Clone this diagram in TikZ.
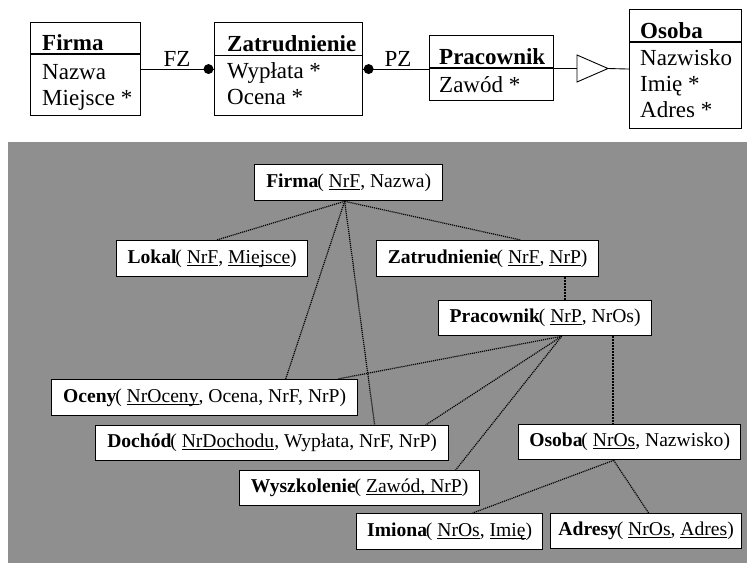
\documentclass[tikz,border=0pt]{standalone}
\usepackage{fontspec}
\setmainfont{Liberation Serif}
% bold relation name, drawn tight against the opening parenthesis
\newcommand\bw[1]{\textbf{#1}\kern-1.2pt}
% key attribute: text with a rule just under the baseline
\newcommand\ulx[1]{\setbox1\hbox{#1}\rlap{\rule[-2.2pt]{\wd1}{0.9pt}}\box1}
\definecolor{panelgray}{RGB}{143,143,143}
\begin{document}
\begin{tikzpicture}[x=1pt,y=-1pt,
  cls/.style={draw, line width=1.1pt, inner sep=0pt, anchor=north west},
  attr/.style={anchor=base west, inner sep=0pt, font=\fontsize{23}{27}\selectfont},
  lbl/.style={anchor=base, inner sep=0pt, font=\fontsize{23}{27}\selectfont},
  conn/.style={line width=0.9pt},
  rel/.style={draw, fill=white, line width=1.3pt, inner sep=0pt, anchor=north west,
    font=\fontsize{19.6}{23}\selectfont},
  link/.style={line width=1.2pt, dash pattern=on 1.1pt off 0.9pt},
  fklink/.style={line width=1.9pt, dash pattern=on 2pt off 1pt}]
\useasboundingbox (0,0) rectangle (749,563);

% ---------- class diagram ----------
\node[cls, minimum width=110pt, minimum height=93pt] (cF) at (30,22) {};
\node[cls, minimum width=148pt, minimum height=93pt] (cZ) at (214,22) {};
\node[cls, minimum width=124pt, minimum height=65pt] (cP) at (429,35) {};
\node[cls, minimum width=112pt, minimum height=119pt] (cO) at (629,9) {};

\draw[line width=1.1pt] (cF.west |- 0,54) -- (cF.east |- 0,54);
\draw[line width=1.1pt] (cZ.west |- 0,55.5) -- (cZ.east |- 0,55.5);
\draw[line width=1.1pt] (cP.west |- 0,68) -- (cP.east |- 0,68);
\draw[line width=1.1pt] (cO.west |- 0,42) -- (cO.east |- 0,42);

\node[attr] (tF1) at (42,50.5) {\textbf{Firma}};
\node[attr] (tF2) at (42,79) {Nazwa};
\node[attr] (tF3) at (42,105) {Miejsce *};
\node[attr] (tZ1) at (227,51.5) {\textbf{Zatrudnienie}};
\node[attr] (tZ2) at (227,78) {Wypłata *};
\node[attr] (tZ3) at (227,104) {Ocena *};
\node[attr] (tP1) at (439,64) {\textbf{Pracownik}};
\node[attr] (tP2) at (439,92) {Zawód *};
\node[attr] (tO1) at (640,38) {\textbf{Osoba}};
\node[attr] (tO2) at (640,65) {Nazwisko};
\node[attr] (tO3) at (640,91) {Imię *};
\node[attr] (tO4) at (640,117) {Adres *};

% associations
\draw[conn] (cF.east) -- (cZ.west);
\fill ([xshift=-5.5pt]cZ.west) circle (5pt);
\node[lbl] (lFZ) at (177,66.5) {FZ};
\draw[conn] (cZ.east) -- (cZ.east -| cP.west);
\fill ([xshift=5.5pt]cZ.east) circle (5pt);
\node[lbl] (lPZ) at (398,66.5) {PZ};

% generalization
\coordinate (gb) at (577,68.5);
\coordinate (ga) at (608,68.5);
\draw[conn] (cP.east |- gb) -- (gb);
\draw[conn] (ga) -- (cO.west);
\draw[conn, fill=white] (577,55) -- (ga) -- (577,82) -- cycle;

% ---------- relational schema ----------
\fill[panelgray] (8,142) rectangle (747,563);

\node[rel, minimum width=188pt, minimum height=36pt] (rFirma) at (254,164)
  {\bw{Firma}( \ulx{NrF}, Nazwa)};
\node[rel, minimum width=191pt, minimum height=36pt] (rLokal) at (116,240)
  {\bw{Lokal}( \ulx{NrF}, \ulx{Miejsce})};
\node[rel, minimum width=222pt, minimum height=36pt] (rZatr) at (376,240)
  {\bw{Zatrudnienie}( \ulx{NrF}, \ulx{NrP})};
\node[rel, minimum width=213pt, minimum height=35pt] (rPrac) at (438,300)
  {\bw{Pracownik}( \ulx{NrP}, NrOs)};
\node[rel, minimum width=306pt, minimum height=36pt] (rOceny) at (51,379)
  {\bw{Oceny}( \ulx{NrOceny}, Ocena, NrF, NrP)};
\node[rel, minimum width=353pt, minimum height=35pt] (rDoch) at (95,425)
  {\bw{Dochód}( \ulx{NrDochodu}, Wypłata, NrF, NrP)};
\node[rel, minimum width=240pt, minimum height=35pt] (rWysz) at (239,470)
  {\bw{Wyszkolenie}( \ulx{Zawód, NrP})};
\node[rel, minimum width=186pt, minimum height=36pt] (rImiona) at (356,513)
  {\bw{Imiona}( \ulx{NrOs}, \ulx{Imię})};
\node[rel, minimum width=222pt, minimum height=35pt] (rOsoba) at (518,424)
  {\bw{Osoba}( \ulx{NrOs}, Nazwisko)};
\node[rel, minimum width=191pt, minimum height=35pt] (rAdresy) at (550,513)
  {\bw{Adresy}( \ulx{NrOs}, \ulx{Adres})};

% links from Firma
\draw[link] ([xshift=-4pt]rFirma.south) -- ([xshift=4.5pt]rLokal.north);
\draw[link] ([xshift=-4pt]rFirma.south) -- ([xshift=33pt]rZatr.north);
\draw[link] ([xshift=-4pt]rFirma.south) -- ([xshift=81pt]rOceny.north);
\draw[link] ([xshift=-4pt]rFirma.south) -- ([xshift=102.5pt]rDoch.north);
% Zatrudnienie -- Pracownik
\draw[fklink] ([xshift=77pt]rZatr.south) -- ([xshift=19.5pt]rPrac.north);
% links from Pracownik
\draw[link] ([xshift=16.5pt]rPrac.south) -- ([xshift=133pt]rOceny.north);
\draw[link] ([xshift=16.5pt]rPrac.south) -- ([xshift=153.5pt]rDoch.north);
\draw[link] ([xshift=16.5pt]rPrac.south) -- ([xshift=96pt]rWysz.north);
\draw[fklink] ([xshift=67.5pt]rPrac.south) -- ([xshift=-17pt]rOsoba.north);
% links from Osoba
\draw[link] ([xshift=-16pt]rOsoba.south) -- ([xshift=23pt]rImiona.north);
\draw[link] ([xshift=-16pt]rOsoba.south) -- ([xshift=2.5pt]rAdresy.north);
\end{tikzpicture}
\end{document}
